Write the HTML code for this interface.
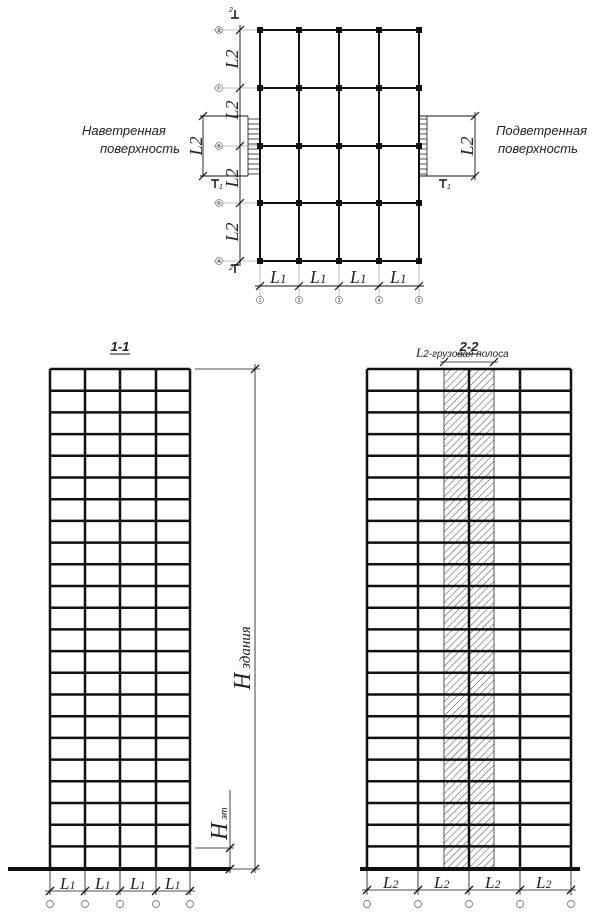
<!DOCTYPE html>
<html><head><meta charset="utf-8"><style>
html,body{margin:0;padding:0;background:#fff}
svg{display:block}
text{font-family:"Liberation Serif",serif;font-style:italic;fill:#222}
.s{font-family:"Liberation Sans",sans-serif}
</style></head><body>
<svg width="608" height="913" viewBox="0 0 608 913" xmlns="http://www.w3.org/2000/svg">
<defs>
<pattern id="h" patternUnits="userSpaceOnUse" width="5" height="5" patternTransform="rotate(45)">
<line x1="0" y1="0" x2="0" y2="5" stroke="#444" stroke-width="1"/>
</pattern>
</defs>
<!-- PLAN -->
<g stroke="#aaa" stroke-width="0.8">
<line x1="213" y1="30" x2="260" y2="30"/><line x1="213" y1="88" x2="260" y2="88"/><line x1="213" y1="146" x2="260" y2="146"/><line x1="213" y1="203" x2="260" y2="203"/><line x1="213" y1="261" x2="260" y2="261"/>
<line x1="260" y1="261" x2="260" y2="296"/><line x1="299" y1="261" x2="299" y2="296"/><line x1="339" y1="261" x2="339" y2="296"/><line x1="379" y1="261" x2="379" y2="296"/><line x1="419" y1="261" x2="419" y2="296"/>
</g>
<g stroke="#111" stroke-width="0.9">
<line x1="240" y1="25" x2="240" y2="266"/>
<line x1="255" y1="286" x2="424" y2="286"/>
<line x1="203" y1="116" x2="203" y2="176"/>
<line x1="200" y1="116" x2="248" y2="116"/><line x1="200" y1="176" x2="248" y2="176"/>
<line x1="419" y1="116" x2="475" y2="116"/><line x1="419" y1="176" x2="475" y2="176"/>
<line x1="475" y1="112" x2="475" y2="180"/>
</g>
<g stroke="#111" stroke-width="1.2">
<line x1="236" y1="34" x2="244" y2="26"/><line x1="236" y1="92" x2="244" y2="84"/><line x1="236" y1="150" x2="244" y2="142"/><line x1="236" y1="207" x2="244" y2="199"/><line x1="236" y1="265" x2="244" y2="257"/>
<line x1="256" y1="290" x2="264" y2="282"/><line x1="295" y1="290" x2="303" y2="282"/><line x1="335" y1="290" x2="343" y2="282"/><line x1="375" y1="290" x2="383" y2="282"/><line x1="415" y1="290" x2="423" y2="282"/>
<line x1="199" y1="120" x2="207" y2="112"/><line x1="199" y1="180" x2="207" y2="172"/>
<line x1="471" y1="120" x2="479" y2="112"/><line x1="471" y1="180" x2="479" y2="172"/>
</g>
<g stroke="#111" stroke-width="2">
<line x1="260" y1="30" x2="419" y2="30"/><line x1="260" y1="88" x2="419" y2="88"/><line x1="260" y1="146" x2="419" y2="146"/><line x1="260" y1="203" x2="419" y2="203"/><line x1="260" y1="261" x2="419" y2="261"/>
<line x1="260" y1="30" x2="260" y2="261"/><line x1="299" y1="30" x2="299" y2="261"/><line x1="339" y1="30" x2="339" y2="261"/><line x1="379" y1="30" x2="379" y2="261"/><line x1="419" y1="30" x2="419" y2="261"/>
</g>
<g fill="#111">
<rect x="257" y="27" width="6" height="6"/><rect x="296" y="27" width="6" height="6"/><rect x="336" y="27" width="6" height="6"/><rect x="376" y="27" width="6" height="6"/><rect x="416" y="27" width="6" height="6"/>
<rect x="257" y="85" width="6" height="6"/><rect x="296" y="85" width="6" height="6"/><rect x="336" y="85" width="6" height="6"/><rect x="376" y="85" width="6" height="6"/><rect x="416" y="85" width="6" height="6"/>
<rect x="257" y="143" width="6" height="6"/><rect x="296" y="143" width="6" height="6"/><rect x="336" y="143" width="6" height="6"/><rect x="376" y="143" width="6" height="6"/><rect x="416" y="143" width="6" height="6"/>
<rect x="257" y="200" width="6" height="6"/><rect x="296" y="200" width="6" height="6"/><rect x="336" y="200" width="6" height="6"/><rect x="376" y="200" width="6" height="6"/><rect x="416" y="200" width="6" height="6"/>
<rect x="257" y="258" width="6" height="6"/><rect x="296" y="258" width="6" height="6"/><rect x="336" y="258" width="6" height="6"/><rect x="376" y="258" width="6" height="6"/><rect x="416" y="258" width="6" height="6"/>
</g>
<!-- wind arrows -->
<g stroke="#111" stroke-width="0.8">
<line x1="248" y1="116" x2="248" y2="176"/><line x1="419" y1="116" x2="427" y2="116"/><line x1="427" y1="116" x2="427" y2="176"/>
<path d="M248 119H259M248 124H259M248 129H259M248 134H259M248 139H259M248 144H259M248 149H259M248 154H259M248 159H259M248 164H259M248 169H259M248 174H259"/>
<path d="M419 119H427M419 124H427M419 129H427M419 134H427M419 139H427M419 144H427M419 149H427M419 154H427M419 159H427M419 164H427M419 169H427M419 174H427"/>
</g>
<g fill="none" stroke="#777" stroke-width="0.7">
<circle cx="219" cy="30" r="3.5"/><circle cx="219" cy="88" r="3.5"/><circle cx="219" cy="146" r="3.5"/><circle cx="219" cy="203" r="3.5"/><circle cx="219" cy="261" r="3.5"/>
<circle cx="260" cy="300" r="3.5"/><circle cx="299" cy="300" r="3.5"/><circle cx="339" cy="300" r="3.5"/><circle cx="379" cy="300" r="3.5"/><circle cx="419" cy="300" r="3.5"/>
</g>
<g class="s" font-size="5" fill="#666" text-anchor="middle" style="font-style:normal">
<text class="s" x="219" y="32" fill="#666" style="font-style:normal">Д</text><text class="s" x="219" y="90" fill="#666" style="font-style:normal">Г</text><text class="s" x="219" y="148" fill="#666" style="font-style:normal">В</text><text class="s" x="219" y="205" fill="#666" style="font-style:normal">Б</text><text class="s" x="219" y="263" fill="#666" style="font-style:normal">А</text>
<text class="s" x="260" y="302" fill="#666" style="font-style:normal">1</text><text class="s" x="299" y="302" fill="#666" style="font-style:normal">2</text><text class="s" x="339" y="302" fill="#666" style="font-style:normal">3</text><text class="s" x="379" y="302" fill="#666" style="font-style:normal">4</text><text class="s" x="419" y="302" fill="#666" style="font-style:normal">5</text>
</g>
<!-- section marks -->
<g stroke="#111" stroke-width="1.5" fill="none">
<path d="M235 10V18M231 18H239"/><path d="M235 265V273M231 265H239"/>
<path d="M215 180V188M211 180H219"/><path d="M443 180V188M439 180H447"/>
</g>
<g font-size="7" class="s" fill="#111">
<text x="229" y="12" class="s">2</text><text x="229" y="270" class="s">2</text>
<text x="219" y="189" class="s">1</text><text x="447" y="189" class="s">1</text>
</g>
<g font-size="18">
<text transform="translate(238,59) rotate(-90)" text-anchor="middle">L2</text>
<text transform="translate(238,110) rotate(-90)" text-anchor="middle">L2</text>
<text transform="translate(202,146) rotate(-90)" text-anchor="middle">L2</text>
<text transform="translate(238,178) rotate(-90)" text-anchor="middle">L2</text>
<text transform="translate(238,232) rotate(-90)" text-anchor="middle">L2</text>
<text transform="translate(473,146) rotate(-90)" text-anchor="middle">L2</text>
<text x="270" y="283">L<tspan font-size="13">1</tspan></text>
<text x="310" y="283">L<tspan font-size="13">1</tspan></text>
<text x="350" y="283">L<tspan font-size="13">1</tspan></text>
<text x="390" y="283">L<tspan font-size="13">1</tspan></text>
</g>
<g class="s" font-size="13" fill="#333">
<text x="82" y="135" class="s">Наветренная</text>
<text x="100" y="153" class="s">поверхность</text>
<text x="496" y="135" class="s">Подветренная</text>
<text x="498" y="153" class="s">поверхность</text>
</g>

<!-- ELEVATION 1-1 -->
<text x="120" y="351" class="s" font-size="13" font-weight="bold" text-anchor="middle">1-1</text>
<line x1="110" y1="354" x2="130" y2="354" stroke="#111" stroke-width="1"/>
<g stroke="#111" stroke-width="2.5">
<path d="M50 369H190M50 390.7H190M50 412.4H190M50 434.1H190M50 455.8H190M50 477.5H190M50 499.2H190M50 520.9H190M50 542.6H190M50 564.3H190M50 586H190M50 607.7H190M50 629.4H190M50 651.1H190M50 672.8H190M50 694.5H190M50 716.2H190M50 737.9H190M50 759.6H190M50 781.3H190M50 803H190M50 824.7H190M50 846.4H190"/>
<path d="M50 369V869M85 369V869M120 369V869M156 369V869M190 369V869"/>
</g>
<line x1="8" y1="869" x2="230" y2="869" stroke="#111" stroke-width="4"/>
<g stroke="#111" stroke-width="0.8">
<line x1="195" y1="369" x2="260" y2="369"/><line x1="255" y1="364" x2="255" y2="873"/>
<line x1="230" y1="869" x2="260" y2="869"/>
<line x1="195" y1="848" x2="234" y2="848"/><line x1="230" y1="790" x2="230" y2="873"/>
<path d="M50 869V895M85 869V895M120 869V895M156 869V895M190 869V895"/>
<line x1="45" y1="891" x2="195" y2="891"/>
</g>
<g stroke="#111" stroke-width="1.3">
<line x1="251" y1="373" x2="259" y2="365"/><line x1="251" y1="873" x2="259" y2="865"/>
<line x1="226" y1="852" x2="234" y2="844"/><line x1="226" y1="873" x2="234" y2="865"/>
<line x1="46" y1="895" x2="54" y2="887"/><line x1="81" y1="895" x2="89" y2="887"/><line x1="116" y1="895" x2="124" y2="887"/><line x1="152" y1="895" x2="160" y2="887"/><line x1="186" y1="895" x2="194" y2="887"/>
</g>
<g fill="none" stroke="#555" stroke-width="0.7">
<circle cx="50" cy="904" r="3.5"/><circle cx="85" cy="904" r="3.5"/><circle cx="120" cy="904" r="3.5"/><circle cx="156" cy="904" r="3.5"/><circle cx="190" cy="904" r="3.5"/>
</g>
<g font-size="17">
<text x="60" y="889">L<tspan font-size="12">1</tspan></text>
<text x="95" y="889">L<tspan font-size="12">1</tspan></text>
<text x="130" y="889">L<tspan font-size="12">1</tspan></text>
<text x="165" y="889">L<tspan font-size="12">1</tspan></text>
<text transform="translate(250,690) rotate(-90)" font-size="24">H<tspan font-size="15"> здания</tspan></text>
<text transform="translate(227,840) rotate(-90)" font-size="24">H<tspan font-size="11"> эт</tspan></text>
</g>

<!-- ELEVATION 2-2 -->
<text x="469" y="351" class="s" font-size="13" font-weight="bold" text-anchor="middle">2-2</text>
<line x1="457" y1="354" x2="481" y2="354" stroke="#111" stroke-width="1"/>
<text x="416" y="357" font-size="13">L<tspan class="s" font-size="10">2-грузовая полоса</tspan></text>
<g stroke="#111" stroke-width="0.8"><line x1="440" y1="362" x2="498" y2="362"/></g>
<g stroke="#111" stroke-width="1.2"><line x1="440" y1="366" x2="448" y2="358"/><line x1="490" y1="366" x2="498" y2="358"/></g>
<rect x="444" y="369" width="50" height="500" fill="url(#h)"/>
<g stroke="#555" stroke-width="1"><line x1="444" y1="369" x2="444" y2="869"/><line x1="494" y1="369" x2="494" y2="869"/></g>
<g stroke="#111" stroke-width="2.5">
<path d="M367 369H571M367 390.7H571M367 412.4H571M367 434.1H571M367 455.8H571M367 477.5H571M367 499.2H571M367 520.9H571M367 542.6H571M367 564.3H571M367 586H571M367 607.7H571M367 629.4H571M367 651.1H571M367 672.8H571M367 694.5H571M367 716.2H571M367 737.9H571M367 759.6H571M367 781.3H571M367 803H571M367 824.7H571M367 846.4H571"/>
<path d="M367 369V869M418 369V869M469 369V869M520 369V869M571 369V869"/>
</g>
<line x1="360" y1="869" x2="580" y2="869" stroke="#111" stroke-width="4"/>
<g stroke="#111" stroke-width="0.8">
<path d="M367 869V895M418 869V895M469 869V895M520 869V895M571 869V895"/>
<line x1="362" y1="890" x2="576" y2="890"/>
</g>
<g stroke="#111" stroke-width="1.3">
<line x1="363" y1="894" x2="371" y2="886"/><line x1="414" y1="894" x2="422" y2="886"/><line x1="465" y1="894" x2="473" y2="886"/><line x1="516" y1="894" x2="524" y2="886"/><line x1="567" y1="894" x2="575" y2="886"/>
</g>
<g fill="none" stroke="#555" stroke-width="0.7">
<circle cx="367" cy="904" r="3.5"/><circle cx="418" cy="904" r="3.5"/><circle cx="469" cy="904" r="3.5"/><circle cx="520" cy="904" r="3.5"/><circle cx="571" cy="904" r="3.5"/>
</g>
<g font-size="17">
<text x="383" y="888">L<tspan font-size="12">2</tspan></text>
<text x="434" y="888">L<tspan font-size="12">2</tspan></text>
<text x="485" y="888">L<tspan font-size="12">2</tspan></text>
<text x="536" y="888">L<tspan font-size="12">2</tspan></text>
</g>
</svg>
</body></html>
